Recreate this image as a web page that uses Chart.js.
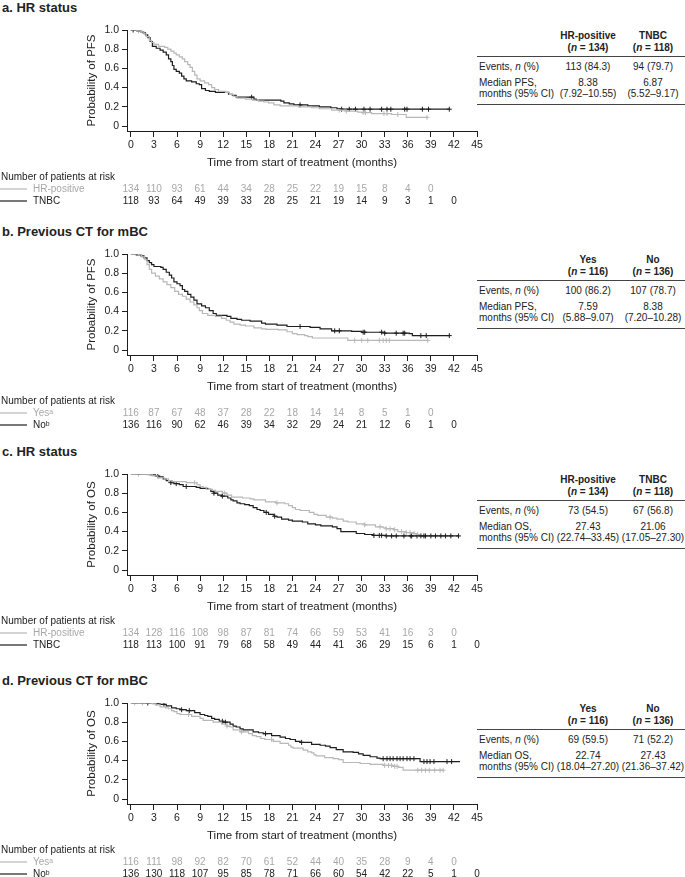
<!DOCTYPE html>
<html>
<head>
<meta charset="utf-8">
<script src="https://cdn.jsdelivr.net/npm/chart.js@4.4.0/dist/chart.umd.min.js"></script>
<style>
  body { margin: 0; width: 685px; height: 877px; overflow: hidden; background: #fff; position: relative;
         font-family: "Liberation Sans", Arial, "DejaVu Sans", sans-serif; color: #222; }
  canvas { position: absolute; left: 0; }
  .ptitle { position: absolute; left: 2px; font-weight: bold; font-size: 13px; line-height: 16px; }
  .cell { position: absolute; font-size: 10px; line-height: 12px; white-space: nowrap; }
  .c1 { left: 553px; width: 70px; text-align: center; }
  .c2 { left: 618px; width: 70px; text-align: center; }
  .lab { left: 479px; }
  .rule { position: absolute; left: 477px; width: 208px; border-top: 1px solid #444; }
  .hd { font-weight: bold; }
</style>
</head>
<body>
<script>
// x axis ticks (months) and y axis ticks
const timeTicks = [0, 3, 6, 9, 12, 15, 18, 21, 24, 27, 30, 33, 36, 39, 42, 45];
const probTicks = [0, 0.2, 0.4, 0.6, 0.8, 1.0];

const BLACK = '#1e1e1e';
const GREY = '#b8b8b8';

// ---- a. PFS by HR status ----
const aHrTime = [0, 0.8, 1.3, 1.7, 2.0, 2.4, 2.7, 3.0, 3.6, 4.4, 4.8, 5.2, 5.6, 5.9, 6.3, 6.7, 7.0, 7.4, 7.7, 8.0, 8.3, 8.6, 9.0, 9.6, 10.1, 10.5, 10.9, 11.4, 12.3, 12.8, 13.3, 13.8, 14.9, 15.8, 16.6, 17.3, 17.9, 18.6, 19.4, 21.8, 23.5, 24.5, 26.1, 28.0, 29.5, 30.0, 31.3, 33.9, 35.8, 38.6];
const aHrSurv = [1, 0.99, 0.98, 0.96, 0.93, 0.89, 0.87, 0.85, 0.83, 0.82, 0.80, 0.78, 0.76, 0.74, 0.72, 0.70, 0.67, 0.64, 0.61, 0.57, 0.53, 0.49, 0.47, 0.45, 0.43, 0.40, 0.38, 0.36, 0.35, 0.33, 0.31, 0.29, 0.28, 0.27, 0.26, 0.25, 0.24, 0.22, 0.21, 0.20, 0.19, 0.18, 0.165, 0.155, 0.145, 0.14, 0.13, 0.12, 0.09, 0.09];
const aHrCens = [1.0, 27.1, 28.0, 30.2, 30.5, 32.9, 33.3, 34.7, 38.5];
const aTnbcTime = [0, 0.8, 1.3, 1.6, 1.9, 2.2, 2.5, 2.8, 3.3, 3.8, 4.2, 4.6, 4.9, 5.2, 5.4, 5.6, 5.9, 6.3, 6.6, 6.9, 7.2, 7.9, 8.5, 8.9, 9.2, 9.7, 10.2, 11.0, 12.7, 13.2, 13.7, 16.0, 16.3, 19.5, 19.9, 20.6, 21.2, 23.0, 24.5, 26.0, 26.8, 27.4, 41.4];
const aTnbcSurv = [1, 0.99, 0.98, 0.97, 0.95, 0.92, 0.88, 0.83, 0.81, 0.79, 0.77, 0.74, 0.70, 0.67, 0.63, 0.59, 0.57, 0.55, 0.52, 0.49, 0.47, 0.46, 0.44, 0.43, 0.39, 0.37, 0.36, 0.35, 0.33, 0.32, 0.30, 0.28, 0.27, 0.26, 0.24, 0.23, 0.22, 0.21, 0.20, 0.19, 0.18, 0.175, 0.175];
const aTnbcCens = [0.3, 15.7, 22.0, 27.4, 28.4, 29.2, 30.3, 31.1, 32.6, 33.3, 33.8, 35.6, 35.9, 37.9, 38.7, 41.4];
const aRiskHr = [134, 110, 93, 61, 44, 34, 28, 25, 22, 19, 15, 8, 4, 0];
const aRiskTnbc = [118, 93, 64, 49, 39, 33, 28, 25, 21, 19, 14, 9, 3, 1, 0];

// ---- b. PFS by previous CT for mBC ----
const bYesTime = [0, 1.0, 1.4, 1.8, 2.1, 2.4, 2.7, 3.2, 3.7, 4.2, 4.7, 5.2, 5.7, 6.2, 6.7, 7.2, 7.7, 8.2, 8.6, 8.9, 9.3, 10.0, 11.0, 11.8, 12.4, 12.9, 13.4, 14.2, 14.9, 16.0, 17.0, 17.6, 19.2, 20.3, 21.0, 21.6, 22.6, 23.0, 23.6, 28.0, 28.2, 38.6];
const bYesSurv = [1, 0.99, 0.97, 0.94, 0.89, 0.84, 0.80, 0.77, 0.74, 0.71, 0.68, 0.65, 0.61, 0.58, 0.56, 0.53, 0.50, 0.47, 0.44, 0.41, 0.38, 0.36, 0.35, 0.33, 0.31, 0.29, 0.27, 0.26, 0.25, 0.23, 0.22, 0.215, 0.21, 0.19, 0.17, 0.16, 0.15, 0.14, 0.125, 0.125, 0.10, 0.10];
const bYesCens = [29.1, 30.0, 30.8, 32.3, 32.8, 33.2, 33.6, 38.6];
const bNoTime = [0, 0.7, 1.3, 1.7, 2.1, 2.4, 2.7, 3.0, 3.9, 4.2, 4.6, 5.0, 5.3, 5.6, 6.0, 6.4, 6.7, 7.0, 7.4, 7.8, 8.2, 8.6, 9.2, 9.7, 10.2, 10.7, 11.1, 12.5, 13.0, 13.8, 14.4, 15.5, 17.0, 17.5, 19.0, 20.3, 23.3, 24.6, 26.1, 28.7, 30.0, 33.0, 36.2, 36.6, 41.4];
const bNoSurv = [1, 0.99, 0.98, 0.96, 0.93, 0.91, 0.89, 0.87, 0.86, 0.84, 0.81, 0.78, 0.75, 0.71, 0.69, 0.67, 0.63, 0.61, 0.58, 0.55, 0.52, 0.48, 0.46, 0.44, 0.41, 0.38, 0.36, 0.35, 0.33, 0.32, 0.31, 0.30, 0.28, 0.27, 0.26, 0.245, 0.235, 0.22, 0.20, 0.195, 0.185, 0.175, 0.17, 0.15, 0.15];
const bNoCens = [22.0, 26.5, 27.1, 30.2, 30.4, 32.6, 33.0, 34.5, 35.4, 35.6, 37.7, 38.4, 41.4];
const bRiskYes = [116, 87, 67, 48, 37, 28, 22, 18, 14, 14, 8, 5, 1, 0];
const bRiskNo = [136, 116, 90, 62, 46, 39, 34, 32, 29, 24, 21, 12, 6, 1, 0];

// ---- c. OS by HR status ----
const cHrTime = [0, 2.2, 2.8, 3.5, 4.4, 4.9, 5.4, 7.2, 8.6, 9.0, 9.4, 9.8, 10.6, 11.0, 11.9, 12.5, 13.1, 14.5, 15.5, 16.0, 17.5, 18.8, 20.0, 20.5, 21.0, 21.4, 22.0, 23.2, 23.8, 24.3, 25.4, 26.2, 26.8, 27.6, 28.2, 29.3, 30.4, 31.8, 32.8, 33.2, 34.2, 34.7, 35.8, 36.8, 37.2, 37.5];
const cHrSurv = [1, 0.99, 0.98, 0.96, 0.95, 0.93, 0.92, 0.91, 0.89, 0.87, 0.86, 0.84, 0.83, 0.82, 0.80, 0.78, 0.76, 0.75, 0.74, 0.73, 0.71, 0.70, 0.69, 0.67, 0.65, 0.63, 0.62, 0.60, 0.58, 0.57, 0.55, 0.54, 0.53, 0.51, 0.50, 0.48, 0.47, 0.45, 0.44, 0.43, 0.42, 0.40, 0.39, 0.38, 0.37, 0.37];
const cHrCens = [1.0, 8.3, 12.2, 19.0, 25.9, 30.4, 32.4, 33.2, 33.7, 34.3, 35.2, 35.8, 36.3, 36.8, 37.3];
const cTnbcTime = [0, 2.6, 3.2, 3.6, 4.2, 4.6, 5.2, 5.6, 6.3, 6.8, 8.5, 9.0, 10.0, 10.4, 10.8, 11.3, 11.8, 12.6, 13.0, 13.3, 13.8, 14.2, 14.8, 15.4, 15.9, 16.4, 16.8, 17.3, 17.9, 18.6, 19.0, 19.6, 20.5, 21.0, 22.3, 23.0, 24.0, 24.7, 26.2, 26.8, 27.3, 29.3, 30.4, 31.5, 33.2, 42.6];
const cTnbcSurv = [1, 0.99, 0.98, 0.97, 0.95, 0.93, 0.91, 0.90, 0.89, 0.87, 0.86, 0.85, 0.84, 0.82, 0.80, 0.78, 0.77, 0.75, 0.73, 0.72, 0.70, 0.69, 0.68, 0.67, 0.65, 0.63, 0.62, 0.60, 0.58, 0.56, 0.55, 0.53, 0.52, 0.51, 0.50, 0.48, 0.47, 0.46, 0.45, 0.43, 0.40, 0.38, 0.37, 0.36, 0.355, 0.355];
const cTnbcCens = [3.5, 5.2, 5.9, 7.2, 10.8, 11.9, 17.6, 18.7, 31.6, 32.3, 32.6, 33.2, 33.9, 34.5, 35.5, 36.4, 36.5, 37.2, 37.7, 38.1, 38.3, 39.0, 39.6, 40.3, 40.9, 41.6, 42.6];
const cRiskHr = [134, 128, 116, 108, 98, 87, 81, 74, 66, 59, 53, 41, 16, 3, 0];
const cRiskTnbc = [118, 113, 100, 91, 79, 68, 58, 49, 44, 41, 36, 29, 15, 6, 1, 0];

// ---- d. OS by previous CT for mBC ----
const dYesTime = [0, 2.8, 3.3, 3.8, 4.5, 4.9, 5.3, 5.6, 6.0, 6.4, 7.9, 9.0, 9.4, 10.7, 11.8, 12.5, 12.9, 13.3, 14.2, 15.3, 15.8, 16.3, 16.9, 17.4, 18.5, 19.4, 20.5, 20.8, 21.1, 22.4, 23.0, 23.5, 23.8, 24.1, 25.2, 26.3, 27.0, 27.6, 29.8, 31.1, 32.8, 34.1, 34.8, 35.4, 40.6];
const dYesSurv = [1, 0.99, 0.98, 0.96, 0.95, 0.94, 0.92, 0.91, 0.89, 0.88, 0.86, 0.84, 0.82, 0.80, 0.78, 0.76, 0.75, 0.72, 0.70, 0.68, 0.66, 0.65, 0.63, 0.62, 0.60, 0.58, 0.56, 0.54, 0.53, 0.51, 0.49, 0.48, 0.46, 0.45, 0.43, 0.42, 0.41, 0.38, 0.37, 0.36, 0.35, 0.34, 0.33, 0.30, 0.30];
const dYesCens = [0.5, 1.5, 7.5, 12.5, 14.4, 18.3, 33.0, 33.5, 33.9, 34.3, 34.6, 37.3, 37.8, 38.3, 38.8, 39.5, 40.2, 40.6];
const dNoTime = [0, 3.4, 3.8, 4.6, 5.3, 5.9, 6.4, 7.2, 8.3, 9.0, 9.6, 10.0, 10.5, 10.9, 11.5, 12.0, 12.9, 13.3, 13.7, 14.2, 14.6, 15.9, 16.6, 17.2, 18.3, 19.4, 20.1, 20.7, 21.4, 22.0, 23.5, 24.6, 25.3, 25.9, 26.7, 27.6, 28.9, 29.6, 30.2, 31.1, 32.0, 32.4, 37.2, 37.6, 42.8];
const dNoSurv = [1, 0.99, 0.985, 0.97, 0.95, 0.94, 0.93, 0.92, 0.90, 0.88, 0.87, 0.86, 0.84, 0.83, 0.81, 0.80, 0.78, 0.76, 0.75, 0.73, 0.72, 0.70, 0.69, 0.68, 0.66, 0.645, 0.63, 0.62, 0.60, 0.59, 0.57, 0.56, 0.55, 0.535, 0.515, 0.49, 0.485, 0.47, 0.455, 0.44, 0.425, 0.42, 0.42, 0.39, 0.39];
const dNoCens = [2.2, 3.3, 4.3, 6.6, 7.6, 11.9, 12.3, 17.5, 22.2, 32.8, 33.3, 33.7, 34.1, 34.6, 35.0, 35.4, 35.9, 36.3, 36.8, 38.1, 38.5, 38.9, 39.4, 41.1, 41.7];
const dRiskYes = [116, 111, 98, 92, 82, 70, 61, 52, 44, 40, 35, 28, 9, 4, 0];
const dRiskNo = [136, 130, 118, 107, 95, 85, 78, 71, 66, 60, 54, 42, 22, 5, 1, 0];

// table texts
const tblA = { heads: ['HR-positive', 'TNBC'], ns: ['134', '118'], events: ['113 (84.3)', '94 (79.7)'], med: ['8.38', '6.87'], ci: ['(7.92–10.55)', '(5.52–9.17)'], lab: 'Median PFS,' };
const tblB = { heads: ['Yes', 'No'], ns: ['116', '136'], events: ['100 (86.2)', '107 (78.7)'], med: ['7.59', '8.38'], ci: ['(5.88–9.07)', '(7.20–10.28)'], lab: 'Median PFS,' };
const tblC = { heads: ['HR-positive', 'TNBC'], ns: ['134', '118'], events: ['73 (54.5)', '67 (56.8)'], med: ['27.43', '21.06'], ci: ['(22.74–33.45)', '(17.05–27.30)'], lab: 'Median OS,' };
const tblD = { heads: ['Yes', 'No'], ns: ['116', '136'], events: ['69 (59.5)', '71 (52.2)'], med: ['22.74', '27.43'], ci: ['(18.04–27.20)', '(21.36–37.42)'], lab: 'Median OS,' };

const panels = [
  { top: 0, title: 'a. HR status', yTitle: 'Probability of PFS', g: [aHrTime, aHrSurv, aHrCens], k: [aTnbcTime, aTnbcSurv, aTnbcCens], risk: [aRiskHr, aRiskTnbc], names: ['HR-positive', 'TNBC'], tbl: tblA },
  { top: 224, title: 'b. Previous CT for mBC', yTitle: 'Probability of PFS', g: [bYesTime, bYesSurv, bYesCens], k: [bNoTime, bNoSurv, bNoCens], risk: [bRiskYes, bRiskNo], names: ['Yes\u1d43', 'No\u1d47'], tbl: tblB },
  { top: 444, title: 'c. HR status', yTitle: 'Probability of OS', g: [cHrTime, cHrSurv, cHrCens], k: [cTnbcTime, cTnbcSurv, cTnbcCens], risk: [cRiskHr, cRiskTnbc], names: ['HR-positive', 'TNBC'], tbl: tblC },
  { top: 673, title: 'd. Previous CT for mBC', yTitle: 'Probability of OS', g: [dYesTime, dYesSurv, dYesCens], k: [dNoTime, dNoSurv, dNoCens], risk: [dRiskYes, dRiskNo], names: ['Yes\u1d43', 'No\u1d47'], tbl: tblD }
];

function survAt(times, surv, t) {
  let s = surv[0];
  for (let i = 0; i < times.length; i++) {
    if (times[i] <= t) s = surv[i];
  }
  return s;
}

function kmLine(times, surv, color) {
  return {
    type: 'line',
    data: times.map((t, i) => ({ x: t, y: surv[i] })),
    borderColor: color, borderWidth: 1.2, stepped: true,
    pointRadius: 0, fill: false
  };
}

function censors(times, surv, cens, color) {
  return {
    type: 'scatter',
    data: cens.map(t => ({ x: t, y: survAt(times, surv, t) })),
    pointStyle: 'cross', pointRadius: 2.5, borderColor: color, borderWidth: 1,
    showLine: false
  };
}

function addDiv(cls, top, html) {
  const d = document.createElement('div');
  d.className = cls;
  d.style.top = top + 'px';
  d.innerHTML = html;
  document.body.appendChild(d);
}

function addTable(T, t) {
  addDiv('cell c1 hd', T + 30, t.heads[0]);
  addDiv('cell c2 hd', T + 30, t.heads[1]);
  addDiv('cell c1 hd', T + 42, '(<i>n</i> = ' + t.ns[0] + ')');
  addDiv('cell c2 hd', T + 42, '(<i>n</i> = ' + t.ns[1] + ')');
  addDiv('rule', T + 56, '');
  addDiv('cell lab', T + 61, 'Events, <i>n</i> (%)');
  addDiv('cell c1', T + 61, t.events[0]);
  addDiv('cell c2', T + 61, t.events[1]);
  addDiv('cell lab', T + 77, t.lab);
  addDiv('cell c1', T + 77, t.med[0]);
  addDiv('cell c2', T + 77, t.med[1]);
  addDiv('cell lab', T + 88, 'months (95% CI)');
  addDiv('cell c1', T + 88, t.ci[0]);
  addDiv('cell c2', T + 88, t.ci[1]);
  addDiv('rule', T + 104, '');
}

function riskPlugin(p) {
  return {
    id: 'risk',
    afterDraw(chart) {
      const ctx = chart.ctx;
      const xs = chart.scales.x;
      ctx.save();
      ctx.font = '10px "Liberation Sans", Arial, "DejaVu Sans"';
      ctx.textBaseline = 'middle';
      ctx.fillStyle = '#222';
      ctx.textAlign = 'left';
      ctx.fillText('Number of patients at risk', 1, 177);
      const rows = [[p.risk[0], GREY, '#a8a8a8', p.names[0]], [p.risk[1], BLACK, '#222', p.names[1]]];
      rows.forEach((r, j) => {
        const y = 189 + j * 12;
        ctx.strokeStyle = r[1];
        ctx.lineWidth = 1.2;
        ctx.beginPath(); ctx.moveTo(0, y); ctx.lineTo(27, y); ctx.stroke();
        ctx.fillStyle = r[2];
        ctx.textAlign = 'left';
        ctx.fillText(r[3], 33, y);
        ctx.textAlign = 'center';
        r[0].forEach((n, i) => ctx.fillText(String(n), xs.getPixelForValue(timeTicks[i]), y));
      });
      ctx.restore();
    }
  };
}

function makePanel(p) {
  addDiv('ptitle', p.top, p.title);
  addTable(p.top, p.tbl);
  const cv = document.createElement('canvas');
  cv.width = 490; cv.height = 206;
  cv.style.top = p.top + 'px';
  document.body.appendChild(cv);
  new Chart(cv, {
    type: 'line',
    data: {
      datasets: [
        kmLine(p.g[0], p.g[1], GREY),
        kmLine(p.k[0], p.k[1], BLACK),
        censors(p.g[0], p.g[1], p.g[2], GREY),
        censors(p.k[0], p.k[1], p.k[2], BLACK)
      ]
    },
    options: {
      responsive: false,
      animation: false,
      layout: { padding: { top: 30, bottom: 30, left: 0, right: 13 } },
      plugins: { legend: { display: false }, tooltip: { enabled: false } },
      scales: {
        x: {
          type: 'linear', min: -0.5, max: 45,
          afterBuildTicks: s => { s.ticks = timeTicks.map(v => ({ value: v })); },
          afterFit: s => { s.height = 45; },
          grid: { drawOnChartArea: false, drawTicks: true, tickLength: 6, color: BLACK },
          border: { color: BLACK, width: 1 },
          ticks: { color: '#222', font: { size: 10.5 }, padding: 2, maxRotation: 0, autoSkip: false },
          title: { display: true, text: 'Time from start of treatment (months)', color: '#222', font: { size: 11.5 }, padding: { top: 0, bottom: 6 } }
        },
        y: {
          type: 'linear', min: -0.052, max: 1,
          afterBuildTicks: s => { s.ticks = probTicks.map(v => ({ value: v })); },
          afterFit: s => { s.width = 127; },
          grid: { drawOnChartArea: false, drawTicks: true, tickLength: 5, color: BLACK },
          border: { color: BLACK, width: 1 },
          ticks: { color: '#222', font: { size: 10.5 }, padding: 3, callback: v => v === 0 ? '0' : v.toFixed(1) },
          title: { display: true, text: p.yTitle, color: '#222', font: { size: 11.5 }, padding: { top: 85, bottom: 0 } }
        }
      }
    },
    plugins: [riskPlugin(p)]
  });
}

Chart.defaults.font.family = '"Liberation Sans", Arial, sans-serif';
panels.forEach(makePanel);
</script>
</body>
</html>
